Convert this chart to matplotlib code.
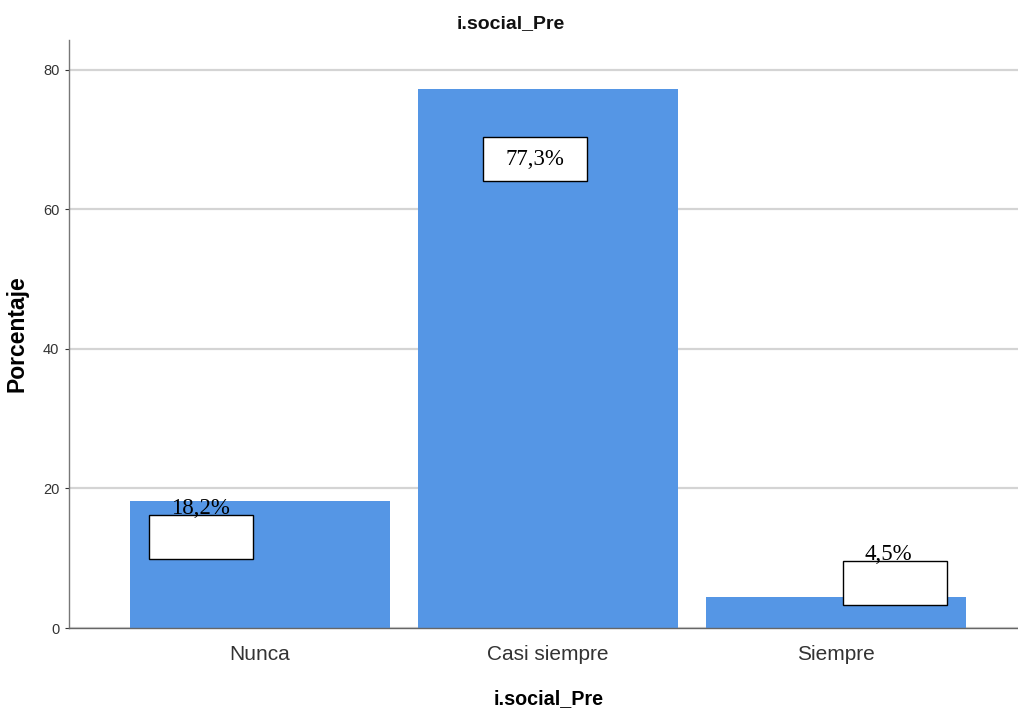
import numpy as np
import matplotlib
matplotlib.use("Agg")
import matplotlib.pyplot as plt
from matplotlib.patches import Rectangle

categories = ["Nunca", "Casi siempre", "Siempre"]
percent = [18.2, 77.3, 4.5]
labels = ["18,2%", "77,3%", "4,5%"]
yticks = [0, 20, 40, 60, 80]

# label box placement relative to each bar (x offset, y offset from top), hand-placed like SPSS
box_dx = [-0.385, -0.226, 0.024]
box_dy = [-8.3, -13.2, -1.2]
txt_dx = [-0.208, -0.045, 0.18]
txt_dy = [-1.0, -10.1, 6.0]
box_w, box_h = 0.361, 6.31

plt.rcParams['font.family'] = ['Liberation Sans', 'DejaVu Sans']

fig = plt.figure(figsize=(10.18, 7.11), dpi=100)
ax = fig.add_axes([69/1018, 1-628/711, (1018-69)/1018, (628-40)/711])

x = np.arange(len(categories))
ax.bar(x, percent, width=0.9, color="#5596e5", zorder=2)

ax.set_xlim(-0.663, 2.632)
ax.set_ylim(0, 84.3)
ax.set_yticks(yticks)
ax.set_xticks(x)
ax.set_xticklabels(categories, fontsize=15, color="#333333")
ax.tick_params(axis="y", labelsize=10.5, colors="#333333", length=3, width=0.8, pad=4)
ax.tick_params(axis="x", length=0, pad=12)
ax.yaxis.grid(True, color="#d4d4d4", linewidth=1.6, zorder=0)
ax.set_axisbelow(True)

for s in ["top", "right"]:
    ax.spines[s].set_visible(False)
ax.spines["left"].set_color("#777777")
ax.spines["bottom"].set_color("#666666")
ax.spines["left"].set_linewidth(1.0)
ax.spines["bottom"].set_linewidth(1.0)

for i, v in enumerate(percent):
    ax.add_patch(Rectangle((i + box_dx[i], v + box_dy[i]), box_w, box_h,
                           facecolor="white", edgecolor="black", linewidth=1.0, zorder=3))
    ax.text(i + txt_dx[i], v + txt_dy[i], labels[i], ha="center", va="center",
            fontsize=16.5, family=["Liberation Serif", "DejaVu Serif"], zorder=4)

ax.set_ylabel("Porcentaje", fontsize=16.5, fontweight="bold")
ax.yaxis.set_label_coords(-0.043, 0.5)
fig.text(0.502, 1-24/711, "i.social_Pre", ha="center", va="center",
         fontsize=14, fontweight="bold", color="#111111")
ax.set_xlabel("i.social_Pre", fontsize=14.2, fontweight="bold")
ax.xaxis.set_label_coords(0.505, -0.103)

fig.savefig("out.png", dpi=100)
